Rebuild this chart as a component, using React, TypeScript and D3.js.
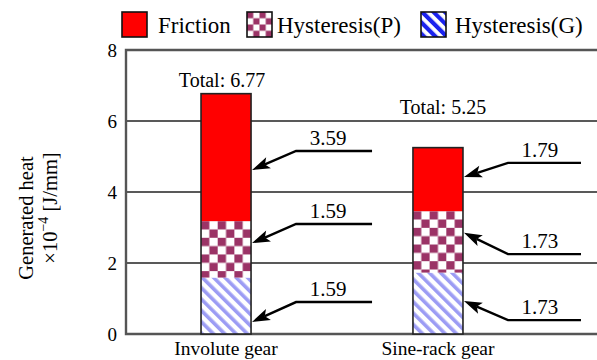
import React from "react";
import * as d3 from "d3";

// Generated heat per gear type, split by loss source (×10^-4 J/mm)
const categories = ["Involute gear", "Sine-rack gear"];
const seriesNames = ["Friction", "Hysteresis(P)", "Hysteresis(G)"];
const friction = [3.59, 1.79];
const hysteresisP = [1.59, 1.73];
const hysteresisG = [1.59, 1.73];
const totals = [6.77, 5.25];
const yTicks = [0, 2, 4, 6, 8];

// Callout arrows: value at the arrow tip and value of the leader line, per bar
const calloutTip = [
  [4.62, 2.56, 0.34],
  [4.42, 2.85, 0.93],
];
const calloutLine = [
  [5.155, 3.1, 0.9],
  [4.82, 2.25, 0.39],
];
// Height of each "Total" label above its bar (px)
const totalLift = [7, 34];

const W = 597;
const H = 360;
const plotLeft = 126;
const plotTop = 50;
const plotBottom = 334;
const FONT = "'Liberation Serif', 'Times New Roman', Times, serif";

const RED = "#ff0000";
const MAROON = "#9b3366";
const STRIPE = "#9c9cf4";

export default function App() {
  const x = d3
    .scaleBand<string>()
    .domain(categories)
    .range([plotLeft, 538])
    .paddingInner(0.764)
    .paddingOuter(0.354);
  const y = d3.scaleLinear().domain([0, 8]).range([plotBottom, plotTop]);
  const bw = x.bandwidth();
  const cell = bw / 6;

  const stackRows = categories.map((c, i) => ({
    c,
    G: hysteresisG[i],
    P: hysteresisP[i],
    F: friction[i],
  }));
  const stack = d3.stack<any>().keys(["G", "P", "F"])(stackRows);
  const fills: Record<string, (i: number) => string> = {
    G: (i) => `url(#stripes-${i})`,
    P: (i) => `url(#checks-${i})`,
    F: () => RED,
  };

  const arrow = (x0: number, y0: number, x1: number, y1: number) => {
    const dx = x1 - x0;
    const dy = y1 - y0;
    const len = Math.hypot(dx, dy);
    const ux = dx / len;
    const uy = dy / len;
    const hl = 18;
    const hw = 6;
    const bx = x1 - ux * hl;
    const by = y1 - uy * hl;
    const head = `M${x1},${y1}L${bx - uy * hw},${by + ux * hw}L${bx + ux * 4},${by + uy * 4}L${bx + uy * hw},${by - ux * hw}Z`;
    return { shaftEnd: [bx + ux * 4, by + uy * 4], head };
  };

  const legendBoxes = [122, 247, 421];
  const legendText = [158, 277, 455];
  const legendFill = ["#ff0000", "url(#legend-checks)", "url(#legend-stripes)"];

  return (
    <svg
      width={W}
      height={H}
      style={{ position: "absolute", left: 0, top: 0, background: "#fff", fontFamily: FONT }}
    >
      <defs>
        {categories.map((c, i) => {
          const left = x(c)!;
          return (
            <React.Fragment key={c}>
              <pattern
                id={`checks-${i}`}
                patternUnits="userSpaceOnUse"
                x={left}
                y={y(hysteresisG[i] + hysteresisP[i])}
                width={cell * 2}
                height={cell * 2}
              >
                <rect width={cell * 2} height={cell * 2} fill="#fff" />
                <rect width={cell} height={cell} fill={MAROON} />
                <rect x={cell} y={cell} width={cell} height={cell} fill={MAROON} />
              </pattern>
              <pattern
                id={`stripes-${i}`}
                patternUnits="userSpaceOnUse"
                x={left}
                y={0}
                width={8}
                height={8}
                patternTransform="rotate(-45)"
              >
                <rect width={8} height={8} fill="#fff" />
                <rect width={3.6} height={8} fill={STRIPE} />
              </pattern>
            </React.Fragment>
          );
        })}
        <pattern id="legend-checks" patternUnits="userSpaceOnUse" x={247} y={12} width={12.5} height={12.5}>
          <rect width={12.5} height={12.5} fill="#fff" />
          <rect width={6.25} height={6.25} fill={MAROON} />
          <rect x={6.25} y={6.25} width={6.25} height={6.25} fill={MAROON} />
        </pattern>
        <pattern id="legend-stripes" patternUnits="userSpaceOnUse" width={8} height={8} patternTransform="rotate(-45)">
          <rect width={8} height={8} fill="#fff" />
          <rect width={4.2} height={8} fill="#1a22ee" />
        </pattern>
      </defs>

      {/* legend */}
      {seriesNames.map((name, i) => (
        <g key={name}>
          <rect
            x={legendBoxes[i]}
            y={12}
            width={25}
            height={25}
            fill={legendFill[i]}
            stroke="#111"
            strokeWidth={1.6}
          />
          <text x={legendText[i]} y={33} fontSize={23} fill="#000">
            {name}
          </text>
        </g>
      ))}

      {/* grid lines */}
      {yTicks
        .filter((t) => t > 0 && t < 8)
        .map((t) => (
          <line key={t} x1={plotLeft} x2={W} y1={y(t)} y2={y(t)} stroke="#222" strokeWidth={1.4} />
        ))}
      {/* frame: top, left, bottom */}
      <path
        d={`M${W},${y(8)}H${plotLeft}V${y(0)}H${W}`}
        fill="none"
        stroke="#555"
        strokeWidth={2.4}
      />

      {/* y tick labels */}
      {yTicks.map((t) => (
        <text key={t} x={117} y={y(t) + 7} textAnchor="end" fontSize={19} fill="#000">
          {t}
        </text>
      ))}

      {/* y axis title */}
      <g transform="translate(33,218) rotate(-90)">
        <text textAnchor="middle" fontSize={20.5} fill="#000">
          Generated heat
        </text>
      </g>
      <g transform="translate(57,208) rotate(-90)">
        <text textAnchor="middle" fontSize={20.5} fill="#000">
          ×10
          <tspan fontSize={14} dy={-9}>
            −4
          </tspan>
          <tspan dy={9}> [J/mm]</tspan>
        </text>
      </g>

      {/* stacked bars */}
      {stack.map((layer) =>
        layer.map((d, i) => (
          <rect
            key={`${layer.key}-${i}`}
            x={x(categories[i])!}
            y={y(d[1])}
            width={bw}
            height={y(d[0]) - y(d[1])}
            fill={fills[layer.key](i)}
          />
        ))
      )}
      {categories.map((c, i) => (
        <rect
          key={c}
          x={x(c)!}
          y={y(totals[i])}
          width={bw}
          height={y(0) - y(totals[i])}
          fill="none"
          stroke="#222"
          strokeWidth={1.6}
        />
      ))}

      {/* totals */}
      {categories.map((c, i) => (
        <text
          key={c}
          x={x(c)! + bw / 2 + (i === 0 ? -4 : 5)}
          y={y(totals[i]) - totalLift[i]}
          textAnchor="middle"
          fontSize={20}
          fill="#000"
        >
          Total: {totals[i].toFixed(2)}
        </text>
      ))}

      {/* callouts */}
      {categories.map((c, i) => {
        const barRight = x(c)! + bw;
        const values = [friction[i], hysteresisP[i], hysteresisG[i]];
        return values.map((v, k) => {
          const ly = y(calloutLine[i][k]);
          const ty = y(calloutTip[i][k]);
          const elbow = barRight + 45;
          const end = barRight + (i === 0 ? 121 : 118);
          const a = arrow(elbow, ly, barRight + 1, ty);
          return (
            <g key={`${c}-${k}`}>
              <path
                d={`M${end},${ly}H${elbow}L${a.shaftEnd[0]},${a.shaftEnd[1]}`}
                fill="none"
                stroke="#000"
                strokeWidth={2.4}
              />
              <path d={a.head} fill="#000" />
              <text x={elbow + 32} y={ly - 6} textAnchor="middle" fontSize={21} fill="#000">
                {v.toFixed(2)}
              </text>
            </g>
          );
        });
      })}

      {/* category labels */}
      {categories.map((c) => (
        <text key={c} x={x(c)! + bw / 2} y={355} textAnchor="middle" fontSize={19.5} fill="#000">
          {c}
        </text>
      ))}
    </svg>
  );
}
